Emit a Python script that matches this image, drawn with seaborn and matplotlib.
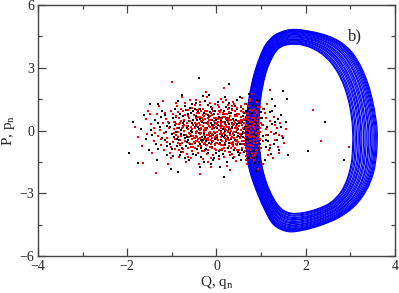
import matplotlib
matplotlib.use("Agg")
import matplotlib.pyplot as plt
from matplotlib.path import Path
from matplotlib.patches import PathPatch
import numpy as np
import seaborn as sns

# outer and inner edge of the blue band of trajectories (Q, P)
outer_q = [3.60, 3.56, 3.50, 3.40, 3.25, 3.05, 2.80, 2.50, 2.15, 1.80, 1.55, 1.30, 1.10, 0.95, 0.83, 0.74,
           0.68, 0.65, 0.67, 0.74, 0.88, 1.06, 1.28, 1.60, 1.95, 2.35, 2.75, 3.10, 3.36, 3.52, 3.59]
outer_p = [0.00, 0.70, 1.40, 2.20, 3.00, 3.70, 4.20, 4.52, 4.72, 4.83, 4.78, 4.55, 4.10, 3.40, 2.60, 1.70,
           0.80, -0.10, -1.00, -1.90, -2.80, -3.70, -4.50, -4.83, -4.76, -4.52, -4.15, -3.60, -2.85, -2.00, -1.00]
inner_q = [3.05, 3.02, 2.96, 2.86, 2.72, 2.54, 2.33, 2.10, 1.88, 1.68, 1.50, 1.36, 1.24, 1.13, 1.05, 0.99,
           0.96, 0.95, 0.97, 1.03, 1.13, 1.28, 1.46, 1.68, 1.95, 2.25, 2.55, 2.78, 2.93, 3.02, 3.05]
inner_p = [0.00, 0.70, 1.40, 2.10, 2.75, 3.30, 3.70, 3.97, 4.10, 4.12, 4.05, 3.85, 3.45, 2.90, 2.25, 1.50,
           0.75, -0.10, -0.95, -1.80, -2.55, -3.25, -3.75, -3.95, -3.92, -3.75, -3.45, -2.95, -2.30, -1.55, -0.75]
# position of each drawn loop inside the band (0 = inner edge, 1 = outer edge)
loop_pos = [0.0, 0.04, 0.1, 0.15, 0.22, 0.27, 0.33, 0.37, 0.44, 0.5, 0.55, 0.62, 0.66, 0.72,
            0.78, 0.83, 0.88, 0.92, 0.96, 1.0]

# map points (q_n, p_n), red set
red_pts = [
    (-1.82, 0.19), (-1.77, -0.29), (-1.64, -1.53), (-1.58, 0.55), (-1.66, -0.72), (-1.53, 0.95),
    (-1.35, -2.01), (-1.46, 0.32), (-1.41, -0.48), (-1.33, 0.81), (-1.29, 1.18), (-1.17, -0.93), (-1.44, -1.08),
    (-1.06, 0.12), (-1.12, -0.36), (-1.27, 0.04), (-1.19, 1.42), (-1.03, -1.31), (-1.49, 0.78), (-1.13, 0.57),
    (-1.24, -0.71), (-1.09, -1.62), (-1.37, -0.14), (-1.01, 0.92),
    (-0.99, 2.30), (-0.96, 0.41), (-0.91, -0.22), (-0.86, 0.88), (-0.81, -0.69), (-0.76, 0.16), (-0.71, 1.31),
    (-0.66, -1.12), (-0.61, 0.62), (-0.56, -0.41), (-0.93, -0.88), (-0.88, 1.17), (-0.79, 0.46), (-0.73, -0.04),
    (-0.68, -1.52), (-0.63, 0.97), (-0.58, -0.77), (-0.53, 0.27), (-0.97, -0.54), (-0.84, -1.26), (-0.77, 1.62),
    (-0.67, 0.36), (-0.59, -0.16), (-0.54, 1.08), (-0.90, 0.69), (-0.82, -0.44), (-0.74, -0.86), (-0.64, 0.07),
    (-0.57, -1.31), (-0.51, 0.72), (-0.95, 0.05), (-0.87, -0.07), (-0.70, 0.74), (-0.62, -0.59), (-0.55, -0.98),
    (-0.80, 1.02), (-0.72, 0.28), (-0.60, 1.44), (-0.52, -0.25), (-0.85, 0.31),
    (-0.48, 0.12), (-0.46, -0.52), (-0.44, 0.83), (-0.42, -1.05), (-0.40, 0.37), (-0.38, -0.18), (-0.36, 1.21),
    (-0.34, -0.76), (-0.32, 0.58), (-0.30, -1.38), (-0.28, 0.04), (-0.26, 0.95), (-0.24, -0.41), (-0.22, 1.58),
    (-0.20, -0.93), (-0.18, 0.29), (-0.16, -0.12), (-0.14, 0.71), (-0.12, -0.64), (-0.10, 1.06), (-0.08, -1.19),
    (-0.06, 0.45), (-0.04, -0.31), (-0.02, 0.18), (-0.49, -0.83), (-0.47, 1.44), (-0.45, 0.22), (-0.43, -0.29),
    (-0.41, 0.66), (-0.39, -1.62), (-0.37, 0.01), (-0.35, 0.44), (-0.33, -0.55), (-0.31, 1.02), (-0.29, -0.08),
    (-0.27, -0.99), (-0.25, 0.34), (-0.23, 0.79), (-0.21, -0.22), (-0.19, -1.51), (-0.17, 0.52), (-0.15, 1.33),
    (-0.13, -0.47), (-0.11, 0.08), (-0.09, -0.82), (-0.07, 0.91), (-0.05, -0.05), (-0.03, 1.27), (-0.01, -0.58),
    (-0.36, -2.10), (-0.24, 1.85), (-0.12, -1.72), (-0.44, -0.02), (-0.30, 0.24), (-0.18, -0.34), (-0.06, 0.62),
    (-0.40, 1.05), (-0.28, -0.66), (-0.14, 0.15), (-0.02, -0.95),
    (0.02, 0.33), (0.04, -0.44), (0.06, 1.12), (0.08, -0.91), (0.10, 0.57), (0.12, -0.16), (0.14, 0.86),
    (0.16, -1.28), (0.18, 0.09), (0.20, -0.61), (0.22, 1.47), (0.24, -0.27), (0.26, 0.42), (0.28, -1.04),
    (0.30, 0.71), (0.32, -0.02), (0.34, 1.18), (0.36, -0.73), (0.38, 0.26), (0.40, -0.38), (0.42, 0.93),
    (0.44, -1.46), (0.46, 0.14), (0.48, -0.12), (0.01, -0.21), (0.03, 0.78), (0.05, -1.35), (0.07, 0.21),
    (0.09, -0.07), (0.11, 1.51), (0.13, -0.52), (0.15, 0.39), (0.17, -0.84), (0.19, 0.64), (0.21, 0.02),
    (0.23, -1.69), (0.25, 1.03), (0.27, -0.45), (0.29, 0.18), (0.31, -0.22), (0.33, 0.52), (0.35, -1.12),
    (0.37, 1.36), (0.39, -0.05), (0.41, 0.36), (0.43, -0.66), (0.45, 0.81), (0.47, -0.91), (0.49, 0.47),
    (0.16, 2.02), (0.30, -1.88), (0.06, 0.02), (0.22, 0.28), (0.38, -0.54), (0.10, -0.69), (0.26, 1.24),
    (0.42, 0.11), (0.04, 0.54), (0.34, -0.29), (0.46, 1.09), (0.18, -0.36), (0.28, 0.88), (0.12, 0.23),
    (0.40, -1.25), (0.20, -0.98),
    (0.51, 0.22), (0.53, -0.35), (0.55, 0.95), (0.57, -0.82), (0.59, 0.48), (0.61, -0.11), (0.63, 1.27),
    (0.65, -1.21), (0.67, 0.13), (0.69, -0.55), (0.71, 0.77), (0.73, -0.02), (0.75, 1.52), (0.77, -0.94),
    (0.79, 0.39), (0.81, -0.27), (0.83, 0.61), (0.85, -1.43), (0.87, 0.05), (0.89, 0.92), (0.91, -0.61),
    (0.93, 0.29), (0.95, -0.18), (0.97, 1.11), (0.99, -0.84), (0.52, -1.06), (0.54, 0.63), (0.56, 0.04),
    (0.58, -0.49), (0.60, 1.01), (0.62, 0.34), (0.64, -0.71), (0.66, 0.55), (0.68, -1.61), (0.70, 0.19),
    (0.72, -0.33), (0.74, 0.98), (0.76, -0.12), (0.78, -0.68), (0.80, 1.76), (0.82, 0.25), (0.84, -0.46),
    (0.86, 0.72), (0.88, -1.09), (0.90, 0.44), (0.92, -0.03), (0.94, -1.82), (0.96, 0.67), (0.98, -0.39),
    (0.58, 1.55), (0.66, -0.21), (0.74, 0.42), (0.82, -1.22), (0.90, 1.35), (0.70, -0.86),
    (1.02, 0.28), (1.05, -0.52), (1.08, 0.83), (1.11, -0.21), (1.14, 1.25), (1.17, -0.95), (1.20, 0.47),
    (1.23, -0.08), (1.26, -1.31), (1.29, 0.66), (1.32, -0.44), (1.35, 0.14), (1.38, -0.78), (1.42, 0.38),
    (1.46, -0.28), (1.51, -0.61), (1.56, 0.09), (1.19, 1.96), (1.04, -1.58), (1.28, -0.18), (1.12, 0.05),
    (1.40, -1.08), (2.17, 0.96), (2.98, -0.77), (2.35, -0.48),
    (-0.95, -0.12), (-0.91, 0.33), (-0.87, -0.61), (-0.83, 0.58), (-0.79, -0.28), (-0.75, 0.92), (-0.71, -0.49),
    (-0.67, 0.21), (-0.63, -0.85), (-0.59, 0.47), (-0.55, 0.09), (-0.51, -0.56),
    (-0.47, 0.61), (-0.45, -0.14), (-0.43, 0.29), (-0.41, -0.72), (-0.39, 0.86), (-0.37, -0.35), (-0.35, 0.14),
    (-0.33, -0.98), (-0.31, 0.48), (-0.29, -0.21), (-0.27, 0.69), (-0.25, -0.58), (-0.23, 0.08), (-0.21, 0.95),
    (-0.19, -0.43), (-0.17, 0.22), (-0.15, -0.79), (-0.13, 0.51), (-0.11, -0.17), (-0.09, 0.76), (-0.07, -0.48),
    (-0.05, 0.27), (-0.03, -0.71), (-0.01, 0.59),
    (0.01, -0.05), (0.03, 0.41), (0.05, -0.62), (0.07, 0.87), (0.09, -0.29), (0.11, 0.14), (0.13, -0.88),
    (0.15, 0.66), (0.17, -0.11), (0.19, 0.31), (0.21, -0.47), (0.23, 0.79), (0.25, -0.08), (0.27, -0.72),
    (0.29, 0.52), (0.31, 0.06), (0.33, -0.37), (0.35, 0.98), (0.37, -0.18), (0.39, 0.44), (0.41, -0.84),
    (0.43, 0.23), (0.45, -0.31), (0.47, 0.68), (0.49, -0.55),
    (0.51, 0.81), (0.53, -0.15), (0.55, 0.34), (0.57, -0.63), (0.59, 0.12), (0.61, 0.57), (0.63, -0.38),
    (0.65, 0.86), (0.67, -0.82), (0.69, 0.27), (0.71, -0.19), (0.73, 0.63), (0.75, -0.51), (0.77, 0.08),
    (0.79, 0.94), (0.81, -0.74), (0.83, 0.17), (0.85, -0.29), (0.87, 0.49), (0.89, -0.91), (0.91, 0.83),
    (0.93, -0.41), (0.95, 0.16), (0.97, -0.07), (0.99, 0.38),
    (0.72, 1.18), (0.78, -1.31), (0.84, 1.05), (0.68, -1.06), (0.86, -1.19), (0.76, 1.42), (0.92, 1.12),
    (0.64, -0.96),
    (-0.86, -0.33), (-0.64, 0.68), (-0.42, -0.41), (-0.20, 0.61), (0.02, -0.39), (0.24, 0.15), (0.46, -0.69),
    (-0.78, 0.12), (-0.56, -0.66), (-0.34, 0.91), (-0.12, -0.27), (0.10, 0.96), (0.32, -0.58), (0.54, 0.52),
    (-1.20, 0.35), (-1.10, -0.55), (-1.30, -0.25), (-1.15, 0.85), (1.10, 0.60), (1.20, -0.70), (1.30, 0.25),
    (1.05, 1.05), (1.15, -1.15), (1.40, -0.20),
    (-1.18, -0.12), (-1.08, 0.42), (-1.02, -0.78), (-0.98, 0.78), (-0.94, -0.42), (-0.89, 0.14), (-0.85, -0.92),
    (-0.81, 0.36), (-0.77, -0.58), (-0.73, 0.52), (-0.69, -0.21), (-0.65, 0.99), (-0.61, -0.33), (-0.57, 0.18),
    (-0.53, -0.81),
    (-0.49, 0.38), (-0.46, -0.24), (-0.43, 0.97), (-0.40, -0.54), (-0.37, 0.26), (-0.34, -0.12), (-0.31, 0.72),
    (-0.28, -0.39), (-0.25, 0.11), (-0.22, -0.68), (-0.19, 0.43), (-0.16, -0.23), (-0.13, 0.84), (-0.10, -0.36),
    (-0.07, 0.19), (-0.04, -0.87), (-0.01, 0.36),
    (0.02, -0.58), (0.05, 0.92), (0.08, -0.18), (0.11, 0.42), (0.14, -0.71), (0.17, 0.18), (0.20, 0.77),
    (0.23, -0.39), (0.26, -0.02), (0.29, 0.61), (0.32, -0.82), (0.35, 0.31), (0.38, -0.11), (0.41, 0.68),
    (0.44, -0.52), (0.47, 0.04), (0.50, -0.93),
    (0.53, 0.45), (0.56, -0.24), (0.59, 0.88), (0.62, -0.48), (0.65, 0.02), (0.68, 0.64), (0.71, -0.71),
    (0.74, 0.21), (0.77, -0.31), (0.80, 0.58), (0.83, -0.61), (0.86, 0.32), (0.89, -0.12), (0.92, 0.62),
    (0.95, -0.72), (0.98, 0.11),
    (-0.62, -0.14), (-0.38, 0.64), (-0.14, -0.09), (0.10, 0.33), (0.34, -0.64), (0.58, 0.27), (0.82, -0.08),
    (-0.50, -0.36), (-0.26, 0.53), (-0.02, -0.24), (0.22, 0.57), (0.46, -0.44), (0.70, 0.49), (0.94, -0.28),
    (-0.74, -1.02), (-0.48, 1.22), (-0.22, -1.11), (0.04, 1.21), (0.30, -1.15), (0.56, 1.19), (0.80, -1.05),
    (-0.90, 1.31), (-0.64, -1.25), (-0.38, 1.38), (-0.12, -1.33), (0.14, 1.34), (0.40, 1.29), (0.66, -1.39),
    (-1.25, -0.42), (-1.05, -1.05), (-1.40, 0.12), (-1.55, -0.18),
]

# map points (q_n, p_n), black set
black_pts = [
    (-1.97, -1.05), (-1.75, -1.53), (-1.86, 0.42), (-1.69, 0.08), (-1.58, -0.41), (-1.62, 0.76), (-1.51, -0.93),
    (-1.48, 1.29), (-1.32, 1.29), (-1.44, -0.22), (-1.38, 0.51), (-1.31, -0.86), (-1.26, 0.18), (-1.21, -0.37),
    (-1.16, 0.72), (-1.11, -1.18), (-1.07, 0.34), (-1.04, -0.63), (-1.01, -1.82), (-1.34, -1.42), (-1.23, 0.95),
    (-1.14, -0.05), (-1.46, 0.02),
    (-0.98, 0.58), (-0.95, -0.31), (-0.92, 1.02), (-0.89, -0.74), (-0.87, -1.96), (-0.85, 0.13), (-0.82, 0.79),
    (-0.79, -1.04), (-0.76, 0.38), (-0.73, -0.23), (-0.70, 1.19), (-0.67, -0.57), (-0.64, 0.24), (-0.61, -1.41),
    (-0.58, 0.84), (-0.55, -0.09), (-0.52, 0.51), (-0.97, -1.22), (-0.94, 0.27), (-0.90, -0.05), (-0.86, 1.42),
    (-0.83, -0.47), (-0.80, 0.04), (-0.77, -0.84), (-0.74, 0.69), (-0.71, -1.29), (-0.68, 0.97), (-0.65, -0.32),
    (-0.62, 0.44), (-0.59, -0.64), (-0.56, 1.27), (-0.53, -1.12), (-0.78, 1.71), (-0.66, 0.11),
    (-0.40, 2.49), (-0.48, -0.36), (-0.46, 0.69), (-0.44, -0.88), (-0.42, 0.17), (-0.39, -0.12), (-0.37, 1.04),
    (-0.35, -1.27), (-0.33, 0.41), (-0.31, -0.47), (-0.29, 0.82), (-0.27, -0.17), (-0.25, 1.39), (-0.23, -0.71),
    (-0.21, 0.11), (-0.19, -1.06), (-0.17, 0.63), (-0.15, -0.28), (-0.13, 1.14), (-0.11, -0.55), (-0.09, 0.26),
    (-0.07, -1.41), (-0.05, 0.78), (-0.03, -0.14), (-0.01, 0.49), (-0.49, 1.02), (-0.47, -1.19), (-0.45, 0.31),
    (-0.43, -0.52), (-0.41, 0.92), (-0.38, -1.73), (-0.34, 0.07), (-0.30, 1.63), (-0.26, -0.94), (-0.22, 0.37),
    (-0.18, -0.39), (-0.14, 0.89), (-0.10, -0.79), (-0.06, 0.13), (-0.02, -1.05), (-0.45, -0.09), (-0.32, -0.29),
    (-0.20, 1.21), (-0.08, -0.23), (-0.36, 0.55), (-0.24, 0.03), (-0.12, -1.61), (-0.28, -1.49), (-0.16, 1.71),
    (-0.04, 0.35),
    (0.16, -2.20), (0.27, 2.20), (0.02, -0.32), (0.05, 0.67), (0.08, -0.61), (0.11, 0.23), (0.14, -1.14),
    (0.17, 0.94), (0.20, -0.19), (0.23, 0.51), (0.26, -0.83), (0.29, 1.31), (0.32, -0.42), (0.35, 0.12),
    (0.38, -1.33), (0.41, 0.74), (0.44, -0.06), (0.47, 1.02), (0.03, 1.35), (0.06, -0.97), (0.09, 0.44),
    (0.12, -0.26), (0.15, 0.08), (0.18, -0.67), (0.21, 1.12), (0.24, -1.52), (0.27, 0.33), (0.30, -0.14),
    (0.33, 0.84), (0.36, -0.71), (0.39, 0.29), (0.42, -0.43), (0.45, 1.48), (0.48, -1.01), (0.01, 0.11),
    (0.13, 0.61), (0.25, -0.35), (0.37, 0.57), (0.49, -0.24), (0.07, -1.76), (0.19, 1.62), (0.31, -1.04),
    (0.43, 0.19), (0.10, -0.04), (0.22, -0.52), (0.34, 1.02), (0.46, -0.63), (0.28, 0.06),
    (0.51, 0.35), (0.53, -0.62), (0.55, 1.14), (0.57, -0.16), (0.59, 0.71), (0.61, -1.04), (0.63, 0.18),
    (0.65, -0.42), (0.67, 0.95), (0.69, -1.37), (0.71, 0.41), (0.73, -0.71), (0.75, 0.06), (0.77, 1.34),
    (0.79, -0.23), (0.81, 0.53), (0.83, -0.98), (0.85, 0.21), (0.87, -0.51), (0.89, 1.18), (0.91, -1.27),
    (0.93, 0.63), (0.95, -0.06), (0.97, -0.66), (0.99, 0.88), (0.52, 1.61), (0.56, -1.42), (0.60, -0.29),
    (0.64, 0.48), (0.68, 0.12), (0.72, 1.73), (0.76, -1.12), (0.80, 0.86), (0.84, -0.17), (0.88, 0.37),
    (0.92, -0.85), (0.96, 1.41), (0.54, 0.04), (0.62, 0.82), (0.70, -0.09), (0.78, -0.54), (0.86, -1.55),
    (0.94, 0.24), (0.58, -0.83), (0.66, 1.28), (0.74, 0.31), (0.82, -0.37), (0.90, 0.02), (0.98, -1.08),
    (0.88, -1.92),
    (1.01, 0.58), (1.04, -0.27), (1.07, 1.04), (1.10, -0.79), (1.13, 0.17), (1.16, -0.48), (1.19, 0.88),
    (1.22, -1.12), (1.25, 0.31), (1.28, -0.62), (1.31, 1.17), (1.34, -0.14), (1.37, 0.56), (1.41, -0.93),
    (1.45, 0.72), (1.50, -0.38), (1.55, 0.43), (1.60, -1.17), (1.09, -1.42), (1.24, 1.52), (1.48, 1.91),
    (1.59, 1.53), (2.44, 0.43), (2.85, -1.39), (2.04, -1.00),
    (-0.93, 0.41), (-0.88, -0.39), (-0.84, 0.62), (-0.79, -0.15), (-0.75, 0.22), (-0.69, -0.72), (-0.64, 0.81),
    (-0.58, -0.27), (-0.54, 0.35),
    (-0.49, -0.61), (-0.44, 0.52), (-0.39, 0.08), (-0.34, -0.43), (-0.29, 0.34), (-0.24, -0.86), (-0.19, 0.72),
    (-0.14, -0.11), (-0.09, 0.51), (-0.04, -0.62),
    (0.04, 0.27), (0.09, -0.45), (0.14, 0.79), (0.19, -0.02), (0.24, 0.61), (0.29, -0.59), (0.34, 0.38),
    (0.39, -0.91), (0.44, 0.52), (0.49, 0.09),
    (0.53, -0.31), (0.57, 0.42), (0.61, -0.64), (0.65, 0.16), (0.69, 0.71), (0.73, -0.44), (0.77, 0.28),
    (0.81, -0.81), (0.85, 0.62), (0.89, -0.26), (0.93, 0.32), (0.97, -0.45),
    (0.71, 1.02), (0.79, -1.28), (0.87, 0.98), (0.83, -1.38), (0.75, -0.97), (0.91, 1.44), (0.67, -1.21),
    (0.95, -1.52),
    (-1.05, 0.15), (-1.15, -0.45), (-1.25, 0.65), (-1.35, -0.65), (-1.00, -0.90), (1.05, 0.25), (1.15, -0.20),
    (1.25, 0.95), (1.35, -0.45), (1.45, 0.15), (1.20, -0.85),
    (-0.70, -0.38), (-0.48, 0.19), (-0.26, -0.31), (-0.04, 0.92), (0.18, 0.42), (0.40, -0.19), (0.62, 0.06),
    (-0.60, 1.08), (-0.38, -0.64), (-0.16, -0.59), (0.06, -1.24), (0.28, 1.09), (0.50, -1.18), (0.66, 0.48),
    (0.84, 0.06),
    (-1.12, 0.22), (-0.99, -0.18), (-0.91, 0.66), (-0.82, -0.62), (-0.72, 0.47), (-0.63, -0.44), (-0.52, 0.92),
    (-0.43, -0.31), (-0.33, 0.61), (-0.23, -0.52), (-0.13, 0.38), (-0.03, -0.41),
    (0.07, 0.58), (0.17, -0.29), (0.27, 0.82), (0.37, -0.66), (0.47, 0.31), (0.57, -0.92), (0.67, 0.64),
    (0.77, -0.71), (0.87, 0.21), (0.97, 0.61),
    (-0.57, -0.02), (-0.35, -0.82), (-0.11, 1.01), (0.13, -0.93), (0.35, 0.19), (0.59, -0.05), (0.81, 1.21),
    (-0.81, -1.19), (-0.45, 1.31), (-0.05, -1.29), (0.41, 1.18), (0.73, -1.31),
    (-1.30, 0.35), (-1.10, -0.75), (1.12, -0.45), (1.30, 0.42),
]

x_ticks = [-4, -2, 0, 2, 4]
y_ticks = [-6, -3, 0, 3, 6]


def smooth_loop(q, p):
    # closed Catmull-Rom curve through the points, drawn as cubic Bezier segments
    pts = np.column_stack([q, p])
    n = len(pts)
    verts = [pts[0]]
    codes = [Path.MOVETO]
    for i in range(n):
        p0, p1, p2, p3 = pts[i - 1], pts[i], pts[(i + 1) % n], pts[(i + 2) % n]
        verts += [p1 + (p2 - p0) / 6, p2 - (p3 - p1) / 6, p2]
        codes += [Path.CURVE4] * 3
    return Path(verts, codes)


def draw():
    sns.set_style("ticks")
    plt.rcParams['font.family'] = ['Liberation Serif', 'DejaVu Serif']
    plt.rcParams['mathtext.fontset'] = 'custom'
    plt.rcParams['mathtext.rm'] = 'Liberation Serif'
    plt.rcParams['mathtext.it'] = 'Liberation Serif:italic'

    fig = plt.figure(figsize=(3.99, 2.93), dpi=100)
    ax = fig.add_axes([0.0952, 0.126, 0.8948, 0.857])

    oq, op = np.array(outer_q), np.array(outer_p)
    iq, ip = np.array(inner_q), np.array(inner_p)
    for w in loop_pos:
        path = smooth_loop(iq + w * (oq - iq), ip + w * (op - ip))
        ax.add_patch(PathPatch(path, fill=False, edgecolor='#0000ff', lw=0.85, zorder=2))

    bq, bp = zip(*black_pts)
    rq, rp = zip(*red_pts)
    sns.scatterplot(x=list(bq), y=list(bp), ax=ax, color='black', marker='s', s=4.5, linewidth=0, zorder=3)
    sns.scatterplot(x=list(rq), y=list(rp), ax=ax, color='#ff0000', marker='s', s=4.5, linewidth=0, zorder=3)

    ax.set_xlim(-4, 4)
    ax.set_ylim(-6, 6)
    ax.set_xticks(x_ticks)
    ax.set_yticks(y_ticks)
    ax.set_xticks([-3, -1, 1, 3], minor=True)
    ax.set_yticks([-4.5, -1.5, 1.5, 4.5], minor=True)
    ax.tick_params(which='both', direction='in', top=True, right=True, color='#444444', labelsize=10, pad=2.5)
    ax.tick_params(which='major', length=6, width=0.9)
    ax.tick_params(which='minor', length=3, width=0.9)
    for s in ax.spines.values():
        s.set_color('#444444')
        s.set_linewidth(1.0)

    ax.set_xlabel('Q, q$_\\mathregular{n}$', fontsize=11, labelpad=1)
    ax.set_ylabel('P, p$_\\mathregular{n}$', fontsize=11, labelpad=2)
    ax.text(2.95, 4.5, 'b)', fontsize=12, va='center', ha='left')

    fig.savefig('out.png', dpi=100)


if __name__ == "__main__":
    draw()
